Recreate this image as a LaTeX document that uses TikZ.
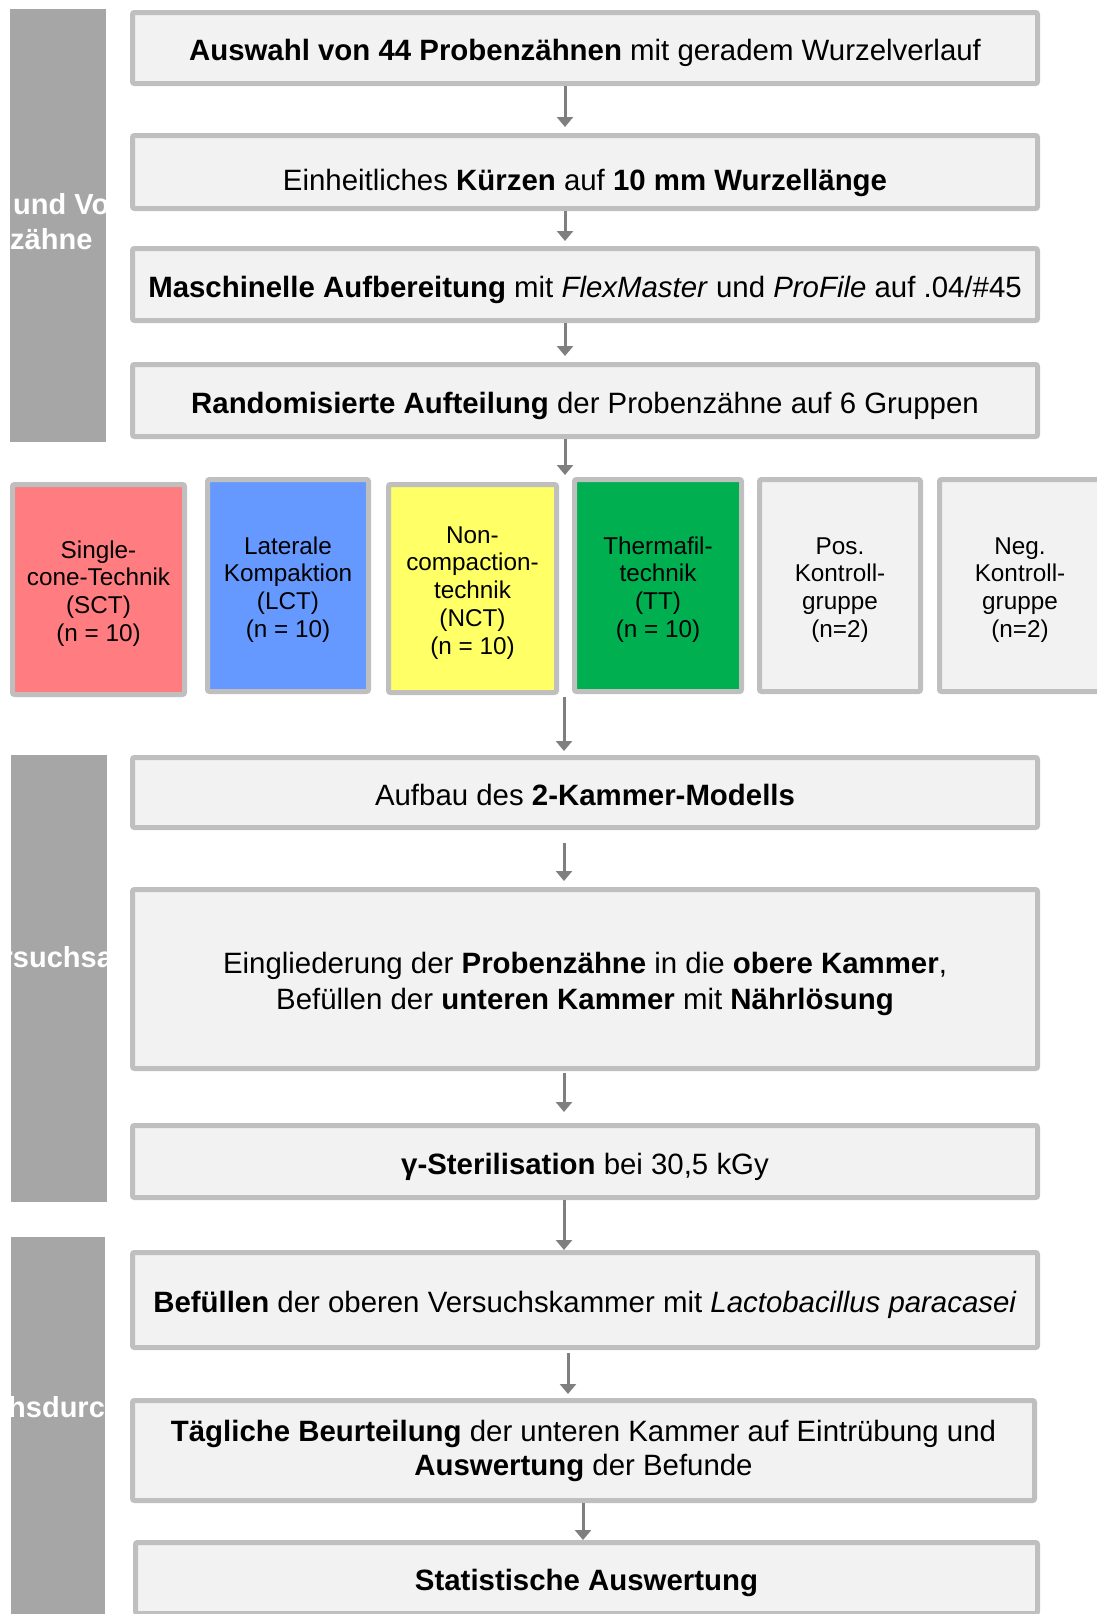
\documentclass[tikz,border=0pt]{standalone}
\usepackage{fontspec}
\setmainfont{Liberation Sans}
\usetikzlibrary{arrows.meta,calc}
\definecolor{boxfill}{HTML}{F2F2F2}
\definecolor{boxline}{HTML}{BFBFBF}
\definecolor{barfill}{HTML}{A6A6A6}
\definecolor{arrgray}{HTML}{7F7F7F}
\definecolor{grpred}{HTML}{FF7C80}
\definecolor{grpblue}{HTML}{6699FF}
\definecolor{grpyellow}{HTML}{FFFF66}
\definecolor{grpgreen}{HTML}{00B050}
\newcommand{\mytop}[1]{\rule{0pt}{#1}}
\newcommand{\mybot}[1]{\rule[-#1]{0pt}{0pt}}
\begin{document}
\begin{tikzpicture}[x=1pt,y=-1pt,
  plainbox/.style={draw=boxline, fill=boxfill, line width=5pt, rounded corners=2pt,
    inner sep=0pt, align=center, font=\fontsize{29.4}{35.5}\selectfont},
  stepbox/.style={plainbox,
    execute at begin node={\rule{0pt}{33pt}},
    execute at end node={\rule[-8pt]{0pt}{0pt}}},
  grp/.style={draw=boxline, line width=5pt, rounded corners=2pt, inner sep=0pt,
    align=center, font=\fontsize{24.3}{27.8}\selectfont},
  bar/.style={fill=barfill, inner sep=0pt},
  bartext/.style={text=white, font=\fontsize{29}{36}\selectfont\bfseries, inner sep=0pt, anchor=west},
  arr/.style={draw=arrgray, line width=3pt, -{Triangle[width=16pt,length=10pt]}}
]
\useasboundingbox (0,0) rectangle (1097,1614);
\clip (0,0) rectangle (1097,1614);

% side bars
\node[bar, minimum width=96, minimum height=433] (bar1) at (58,225.5) {};
\node[bar, minimum width=96, minimum height=447] (bar2) at (59,978.5) {};
\node[bar, minimum width=94, minimum height=380] (bar3) at (58,1427) {};
\begin{scope}
  \clip (bar1.south west) rectangle (bar1.north east);
  \node[bartext] (bt1a) at (13,204) {und Vo};
  \node[bartext] (bt1b) at (10,239) {zähne};
\end{scope}
\begin{scope}
  \clip (bar2.south west) rectangle (bar2.north east);
  \node[bartext] (bt2) at (1.5,957) {rsuchsa};
\end{scope}
\begin{scope}
  \clip (bar3.south west) rectangle (bar3.north east);
  \node[bartext] (bt3) at (8,1407) {hsdurc};
\end{scope}

% step boxes
\node[stepbox, minimum width=905, minimum height=71] (b1) at (585,48)
  {\textbf{Auswahl von 44 Probenzähnen} mit geradem Wurzelverlauf};
\node[stepbox, minimum width=905, minimum height=73] (b2) at (585,172)
  {\raisebox{-6pt}[\height][\depth]{Einheitliches \textbf{Kürzen} auf \textbf{10 mm Wurzellänge}}};
\node[stepbox, minimum width=905, minimum height=72] (b3) at (585,284.5)
  {\textbf{Maschinelle Aufbereitung} mit \textit{FlexMaster} und \textit{ProFile} auf .04/\#45};
\node[stepbox, minimum width=905, minimum height=72] (b4) at (585,400.5)
  {\textbf{Randomisierte Aufteilung} der Probenzähne auf 6 Gruppen};

% groups
\node[grp, fill=grpred, minimum width=172, minimum height=210] (g1) at (98.5,589.5)
  {\mytop{29pt}Single-\\cone-Technik\\(SCT)\\(n = 10)\mybot{8.5pt}};
\node[grp, fill=grpblue, minimum width=161, minimum height=212] (g2) at (288,585.5)
  {\mytop{29pt}Laterale\\Kompaktion\\(LCT)\\(n = 10)\mybot{8.5pt}};
\node[grp, fill=grpyellow, minimum width=168, minimum height=208] (g3) at (472.5,588.5)
  {\mytop{29pt}Non-\\compaction-\\technik\\(NCT)\\(n = 10)\mybot{8.5pt}};
\node[grp, fill=grpgreen, minimum width=167, minimum height=212] (g4) at (658,585.5)
  {\mytop{29pt}Thermafil-\\technik\\(TT)\\(n = 10)\mybot{8.5pt}};
\node[grp, fill=boxfill, minimum width=161, minimum height=212] (g5) at (840,585.5)
  {\mytop{29pt}Pos.\\Kontroll-\\gruppe\\(n=2)\mybot{8.5pt}};
\node[grp, fill=boxfill, minimum width=161, minimum height=212] (g6) at (1020,585.5)
  {\mytop{29pt}Neg.\\Kontroll-\\gruppe\\(n=2)\mybot{8.5pt}};

\node[stepbox, minimum width=905, minimum height=70] (b5) at (585,792.5)
  {Aufbau des \textbf{2-Kammer-Modells}};
\node[plainbox, minimum width=905, minimum height=179] (b6) at (585,979)
  {\mytop{33pt}Eingliederung der \textbf{Probenzähne} in die \textbf{obere Kammer},\\
   Befüllen der \textbf{unteren Kammer} mit \textbf{Nährlösung}\mybot{8.5pt}};
\node[stepbox, minimum width=905, minimum height=72] (b7) at (585,1161.5)
  {\textbf{γ-Sterilisation} bei 30,5 kGy};
\node[stepbox, minimum width=905, minimum height=95] (b8) at (585,1300)
  {\textbf{Befüllen} der oberen Versuchskammer mit \textit{Lactobacillus paracasei}};
\node[plainbox, minimum width=902, minimum height=100, font=\fontsize{29.4}{34}\selectfont] (b9) at (583.5,1450.5)
  {\textbf{Tägliche Beurteilung} der unteren Kammer auf Eintrübung und\\
   \textbf{Auswertung} der Befunde};
\node[stepbox, minimum width=902, minimum height=71] (b10) at (586.5,1578)
  {\textbf{Statistische Auswertung}};

% arrow columns
\coordinate (ax) at (565,0);
\coordinate (bx) at (564,0);
\coordinate (cx) at (568,0);
\coordinate (dx) at (583,0);
\coordinate (a4end) at (565,475);
\coordinate (a5start) at (564,697);

\draw[arr, shorten >=6pt] (b1.south -| ax) -- (b2.north -| ax);
\draw[arr, shorten >=5pt] (b2.south -| ax) -- (b3.north -| ax);
\draw[arr, shorten >=6pt] (b3.south -| ax) -- (b4.north -| ax);
\draw[arr] (b4.south -| ax) -- (a4end);
\draw[arr, shorten >=4pt] (a5start) -- (b5.north -| bx);
\draw[arr, shorten <=13pt, shorten >=6pt] (b5.south -| bx) -- (b6.north -| bx);
\draw[arr, shorten <=2pt, shorten >=11pt] (b6.south -| bx) -- (b7.north -| bx);
\draw[arr] (b7.south -| bx) -- (b8.north -| bx);
\draw[arr, shorten <=3pt, shorten >=4pt] (b8.south -| cx) -- (b9.north -| cx);
\draw[arr] (b9.south -| dx) -- (b10.north -| dx);
\end{tikzpicture}
\end{document}
